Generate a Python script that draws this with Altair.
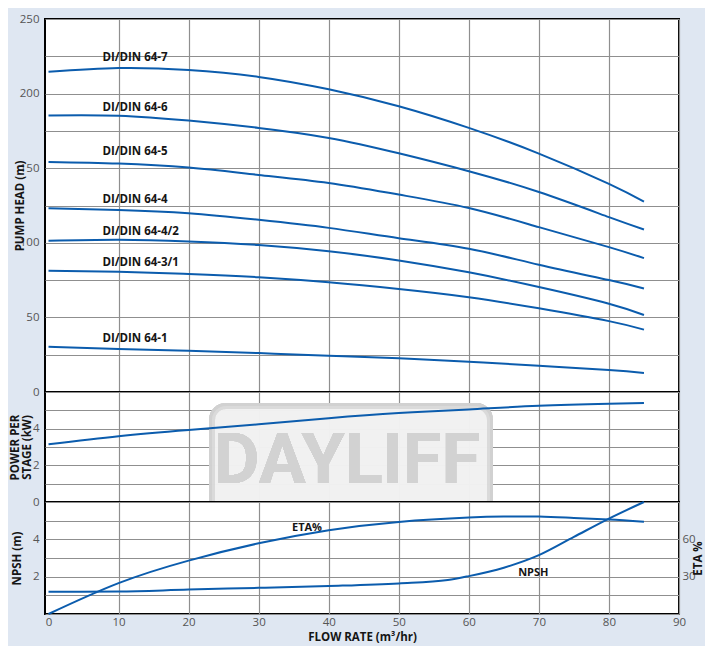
import altair as alt
import pandas as pd

# ---------------- data ----------------
flow = [0, 10, 20, 30, 40, 50, 60, 70, 80, 85]
head_64_7 = [214.6, 217.1, 215.8, 211.2, 202.9, 191.5, 177.0, 159.8, 139.5, 127.6]
head_64_6 = [185.4, 185.2, 181.9, 177.0, 170.3, 160.0, 148.0, 134.0, 117.2, 108.9]
head_64_5 = [154.2, 153.1, 150.4, 145.5, 140.1, 132.3, 123.3, 110.5, 97.1, 89.7]
head_64_4 = [123.2, 122.0, 119.8, 115.4, 110.0, 103.1, 96.0, 85.3, 75.0, 69.4]
head_64_4_2 = [101.3, 102.0, 100.9, 98.5, 94.3, 88.2, 80.2, 70.4, 59.2, 51.6]
head_64_3_1 = [81.3, 80.6, 79.1, 76.9, 73.5, 69.0, 63.5, 56.1, 47.5, 41.8]
head_64_1 = [30.4, 28.8, 27.7, 26.1, 24.3, 22.6, 20.3, 17.6, 14.7, 12.7]

pump_names = ["DI/DIN 64-7", "DI/DIN 64-6", "DI/DIN 64-5", "DI/DIN 64-4",
              "DI/DIN 64-4/2", "DI/DIN 64-3/1", "DI/DIN 64-1"]
label_flow = [7.7, 7.7, 7.7, 7.7, 7.7, 7.7, 7.7]
label_head = [223.9, 190.3, 160.8, 128.7, 107.2, 86.5, 35.5]

power_kw = [3.15, 3.59, 3.93, 4.24, 4.57, 4.85, 5.05, 5.25, 5.36, 5.40]

npsh_flow = [0, 10, 20, 30, 40, 50, 57, 60, 65, 70, 75, 80, 85]
npsh_m = [1.19, 1.20, 1.31, 1.40, 1.50, 1.64, 1.82, 2.03, 2.48, 3.15, 4.13, 5.11, 6.0]

eta_flow = [0, 10, 20, 30, 40, 50, 60, 65, 70, 75, 80, 85]
eta_pct = [0, 24.8, 42.9, 56.8, 67.3, 74.0, 77.5, 78.3, 78.3, 77.2, 76.0, 74.2]

bottom_labels = ["ETA%", "NPSH"]
bottom_label_flow = [36.9, 69.2]
bottom_label_npsh = [4.6, 2.2]

x_ticks = [0, 10, 20, 30, 40, 50, 60, 70, 80, 90]
head_ticks = [0, 25, 50, 75, 100, 125, 150, 175, 200, 225, 250]
kw_ticks = [0, 1, 2, 3, 4, 5, 6]
npsh_ticks = [0, 1, 2, 3, 4, 5, 6]
eta_ticks = [30, 60]

# ---------------- tables ----------------
curves = [head_64_7, head_64_6, head_64_5, head_64_4, head_64_4_2, head_64_3_1, head_64_1]
head_df = pd.DataFrame(
    [{"flow": f, "head": h, "pump": n} for n, c in zip(pump_names, curves) for f, h in zip(flow, c)]
)
head_lbl = pd.DataFrame({"flow": label_flow, "head": label_head, "pump": pump_names})
power_df = pd.DataFrame({"flow": flow, "kw": power_kw})
npsh_df = pd.DataFrame({"flow": npsh_flow, "npsh": npsh_m})
eta_df = pd.DataFrame({"flow": eta_flow, "eta": eta_pct})
bot_lbl = pd.DataFrame({"flow": bottom_label_flow, "npsh": bottom_label_npsh, "txt": bottom_labels})

BLUE = "#0b5cad"
GRID = "#8f8f8f"
BG = "#dfe7f2"
FONT = "Open Sans"
W = 634
H_TOP, H_MID, H_BOT = 373, 110, 112

xscale = alt.Scale(domain=[-0.5, 90], nice=False, zero=False)
grid_color = alt.condition("datum.value == 0", alt.value("transparent"), alt.value(GRID))


def x_hidden():
    return alt.X("flow:Q", scale=xscale,
                 axis=alt.Axis(values=x_ticks, labels=False, title=None, grid=True,
                               gridColor=grid_color))


line_style = dict(color=BLUE, strokeWidth=2, interpolate="natural")

# ---------------- top panel ----------------
top_y = alt.Y("head:Q", scale=alt.Scale(domain=[0, 250], nice=False),
              axis=alt.Axis(values=head_ticks,
                            labelExpr="datum.value % 50 == 0 ? datum.label : ''",
                            title="PUMP HEAD (m)", titleAngle=270, titleBaseline="bottom",
                            titleAlign="center", titleX=-20, titleY=H_TOP / 2))
top_lines = alt.Chart(head_df).mark_line(**line_style).encode(
    x=x_hidden(), y=top_y, detail="pump:N")
top_text = alt.Chart(head_lbl).mark_text(
    align="left", baseline="middle", font=FONT, fontWeight="bold", fontSize=11.5, color="#151515"
).encode(x=x_hidden(), y=top_y, text="pump:N")
top = alt.layer(top_lines, top_text).properties(width=W, height=H_TOP)

# ---------------- middle panel ----------------
mid_y = alt.Y("kw:Q", scale=alt.Scale(domain=[0, 6], nice=False),
              axis=alt.Axis(values=kw_ticks,
                            labelExpr="datum.value % 2 == 0 && datum.value < 6 ? datum.label : ''",
                            title=["POWER PER", "STAGE (kW)"], titleAngle=270,
                            titleBaseline="bottom", titleAlign="center", titleLineHeight=12,
                            titleX=-25, titleY=H_MID / 2))
wm_rect = alt.Chart(power_df).mark_rect(
    fill="#f1f1f1", fillOpacity=0.35, stroke="#d0d0d0", strokeWidth=6, strokeOpacity=0.45,
    cornerRadius=14
).encode(x=alt.value(167), x2=alt.value(445), y=alt.value(14), y2=alt.value(122))
wm_text = alt.Chart(power_df).mark_text(
    text="DAYLIFF", font="Roboto", fontWeight="bold", fontSize=70, color="#d2d2d2",
    opacity=0.55, align="center", baseline="middle"
).encode(x=alt.value(302), y=alt.value(70))
mid_line = alt.Chart(power_df).mark_line(**line_style).encode(x=x_hidden(), y=mid_y)
mid = alt.layer(wm_rect, wm_text, mid_line).properties(width=W, height=H_MID)

# ---------------- bottom panel ----------------
x_bottom = alt.X("flow:Q", scale=xscale,
                 axis=alt.Axis(values=x_ticks, grid=True, gridColor=grid_color,
                               labelFlush=False,
                               title="FLOW RATE (m³/hr)", titleY=23, titleBaseline="middle",
                               labelPadding=2))
bot_y = alt.Y("npsh:Q", scale=alt.Scale(domain=[0, 6], nice=False),
              axis=alt.Axis(values=npsh_ticks,
                            labelExpr="datum.value == 2 || datum.value == 4 ? datum.label : ''",
                            title="NPSH (m)", titleAngle=270, titleBaseline="bottom",
                            titleAlign="center", titleX=-23, titleY=H_BOT / 2))
npsh_line = alt.Chart(npsh_df).mark_line(color=BLUE, strokeWidth=2, interpolate="monotone").encode(
    x=x_bottom, y=bot_y)
bot_text = alt.Chart(bot_lbl).mark_text(
    align="center", baseline="middle", font=FONT, fontWeight="bold", fontSize=11, color="#151515"
).encode(x=x_bottom, y=bot_y, text="txt:N")
npsh_layer = alt.layer(npsh_line, bot_text)
eta_line = alt.Chart(eta_df).mark_line(**line_style).encode(
    x=x_bottom,
    y=alt.Y("eta:Q", scale=alt.Scale(domain=[0, 90], nice=False),
            axis=alt.Axis(orient="right", values=eta_ticks, grid=False, labelPadding=3,
                          title="ETA %", titleAngle=270, titleBaseline="bottom",
                          titleAlign="center", titleX=24, titleY=H_BOT / 2)))
bot = alt.layer(npsh_layer, eta_line).resolve_scale(y="independent").properties(
    width=W, height=H_BOT)

chart = alt.vconcat(top, mid, bot, spacing=0, bounds="flush").resolve_scale(
    x="independent", y="independent"
).properties(
    background=BG,
    padding={"left": 0, "top": 4, "right": 0, "bottom": 2},
).configure_view(
    fill="white", stroke="black", strokeWidth=2
).configure_axis(
    domain=False, ticks=False, gridColor=GRID, gridWidth=1.2,
    labelFont=FONT, labelFontSize=11.5, labelColor="#555555", labelPadding=6,
    titleFont=FONT, titleFontSize=11.5, titleFontWeight="bold", titleColor="#151515"
)

chart.save("out.html", embed_options={"renderer": "svg", "actions": False})
